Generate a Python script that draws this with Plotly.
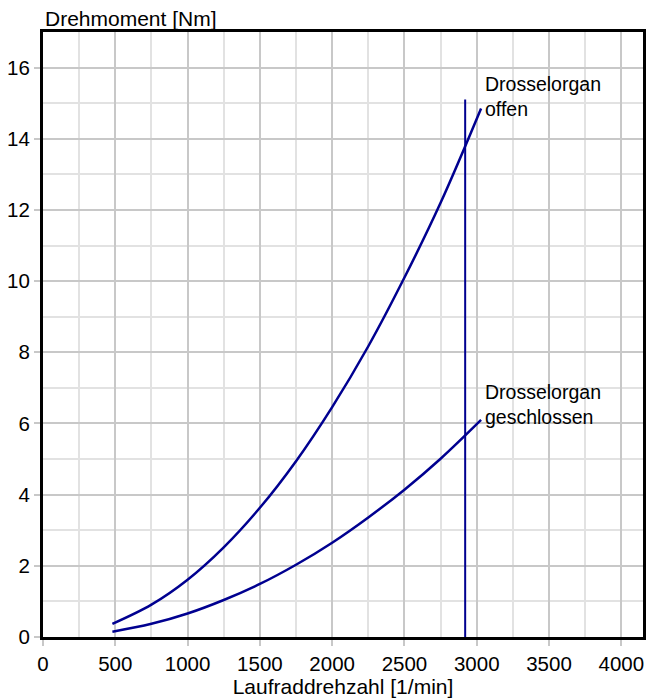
import plotly.graph_objects as go

# Data
drehzahl = [480, 750, 1000, 1250, 1500, 1750, 2000, 2250, 2500, 2750, 3030]
moment_offen = [0.37, 0.91, 1.61, 2.52, 3.63, 4.94, 6.46, 8.17, 10.1, 12.2, 14.85]
moment_geschlossen = [0.15, 0.37, 0.66, 1.04, 1.49, 2.03, 2.65, 3.36, 4.14, 5.01, 6.1]
grenz_drehzahl = [2920, 2920]
grenz_moment = [0, 15.1]

label_offen = "Drosselorgan<br>offen"
label_geschlossen = "Drosselorgan<br>geschlossen"
x_title = "Laufraddrehzahl [1/min]"
y_title = "Drehmoment [Nm]"

FONT = "Liberation Sans, Arial, sans-serif"
LINE = "#000090"

fig = go.Figure()
fig.add_trace(go.Scatter(x=drehzahl, y=moment_offen, mode="lines",
                         line=dict(color=LINE, width=2.5, shape="spline"), hoverinfo="skip"))
fig.add_trace(go.Scatter(x=drehzahl, y=moment_geschlossen, mode="lines",
                         line=dict(color=LINE, width=2.5, shape="spline"), hoverinfo="skip"))
fig.add_trace(go.Scatter(x=grenz_drehzahl, y=grenz_moment, mode="lines",
                         line=dict(color=LINE, width=2), hoverinfo="skip"))

fig.add_annotation(x=3040, y=15.2, xref="x", yref="y", text=label_offen, showarrow=False,
                   xanchor="left", yanchor="middle", align="left",
                   font=dict(family=FONT, size=19.5, color="black"))
fig.add_annotation(x=3040, y=6.52, xref="x", yref="y", text=label_geschlossen, showarrow=False,
                   xanchor="left", yanchor="middle", align="left",
                   font=dict(family=FONT, size=19.5, color="black"))
fig.add_annotation(x=0, y=1, xref="paper", yref="paper", text=y_title, showarrow=False,
                   xanchor="left", yanchor="bottom", yshift=0,
                   font=dict(family=FONT, size=21, color="black"))

fig.update_layout(
    width=650, height=698,
    margin=dict(l=43, r=4, t=32, b=61),
    paper_bgcolor="white", plot_bgcolor="white",
    showlegend=False, hovermode=False,
    font=dict(family=FONT, size=20.5, color="black"),
    xaxis=dict(range=[0, 4150], tick0=0, dtick=500, showgrid=True, gridcolor="#c8c8c8", gridwidth=2,
               minor=dict(dtick=250, showgrid=True, gridcolor="#e2e2e2", gridwidth=2),
               ticks="outside", ticklen=6, tickcolor="#c8c8c8", tickwidth=2,
               showline=True, linecolor="black", linewidth=3, mirror=True, zeroline=False,
               title=dict(text=x_title, standoff=2, font=dict(size=21))),
    yaxis=dict(range=[0, 17], tick0=0, dtick=2, showgrid=True, gridcolor="#c8c8c8", gridwidth=2,
               minor=dict(dtick=1, showgrid=True, gridcolor="#e2e2e2", gridwidth=2),
               ticks="outside", ticklen=6, tickcolor="#c8c8c8", tickwidth=2,
               showline=True, linecolor="black", linewidth=3, mirror=True, zeroline=False),
)

fig.write_html("out.html")
